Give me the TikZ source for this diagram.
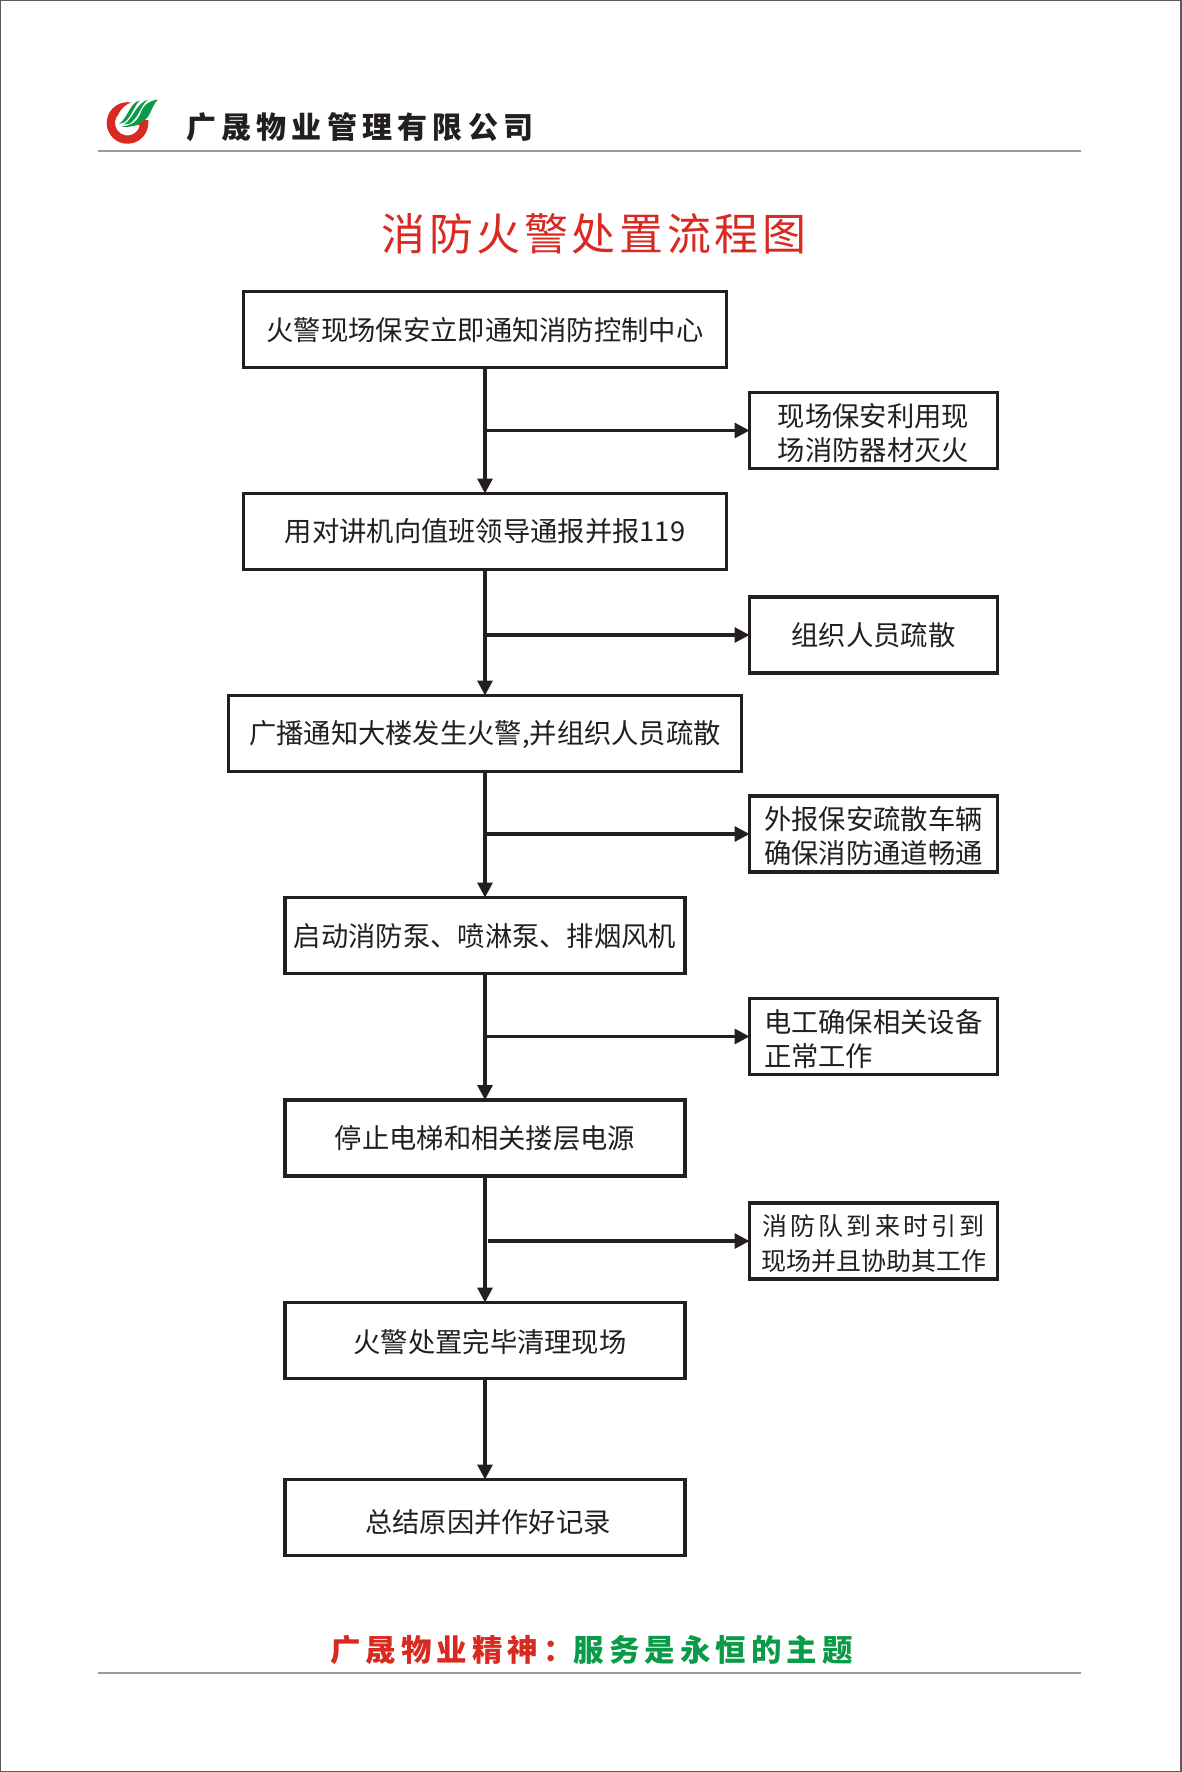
\documentclass[tikz,border=0pt]{standalone}
\usepackage{fontspec}
\usetikzlibrary{arrows.meta}
\newfontfamily\cjkbody{Noto Sans CJK SC}
\newfontfamily\cjkwide[LetterSpace=13]{Noto Sans CJK SC}
\newfontfamily\cjktitle[LetterSpace=8]{Noto Sans CJK SC}
\newfontfamily\cjkhead[LetterSpace=17.5]{Noto Sans CJK SC}
\newfontfamily\cjkmotto[LetterSpace=16.3]{Noto Sans CJK SC}
\definecolor{ink}{HTML}{231F20}
\definecolor{logored}{HTML}{D92A22}
\definecolor{logogreen}{HTML}{0B9A48}
\definecolor{rulegray}{HTML}{9A9A9A}
\definecolor{edgegray}{HTML}{5A5A5A}
\tikzset{
  mainbox/.style={draw=ink,line width=3.4pt,fill=white,outer sep=0pt,inner sep=0pt,minimum height=76pt,text=ink,
    font=\cjkbody\fontsize{27.3}{34}\selectfont,align=center},
  sidebox/.style={mainbox,minimum width=248pt},
  baseup/.style={text height=#1pt,text depth=0pt},
  basedown/.style={text height=0pt,text depth=#1pt},
  flow/.style={draw=ink,line width=3.2pt,-{Triangle[length=15pt,width=15pt]}},
  rulel/.style={draw=rulegray,line width=2pt},
  leaf/.style={fill=logogreen,draw=none}
}
\begin{document}
\begin{tikzpicture}[x=1pt,y=-1pt]
\useasboundingbox (0,0) rectangle (1181,1772);
\draw[edgegray,line width=2pt] (0,0) rectangle (1181,1772);
% header and footer rules
\coordinate (hl) at (98,150.5);
\coordinate (hr) at (1081,150.5);
\draw[rulel] (hl) -- (hr);
\coordinate (fl) at (98,1673);
\coordinate (fr) at (1081,1673);
\draw[rulel] (fl) -- (fr);
% logo
\fill[logored] (131.1,102.5) arc[start angle=-80,end angle=-360,radius=20.8]
  -- (148.3,120) -- (136.5,120) -- (134,125.2) -- (139.8,125.2)
  arc[start angle=-350,end angle=-140,radius=12.5]
  .. controls (121,108.5) and (126,104) .. (131.1,102.5) -- cycle;
\fill[leaf] (119,124) .. controls (128,118) and (130,102) .. (140,100.5)
  .. controls (135,104) and (133,114) .. (125,122) -- cycle;
\fill[leaf] (124,124.5) .. controls (133,119) and (136,103) .. (148.5,99.5)
  .. controls (141,104) and (140,116) .. (130,123.5) -- cycle;
\fill[leaf] (121,126.5) .. controls (131,126) and (138,121) .. (141,112)
  .. controls (143,106) and (148,101) .. (158,99.5)
  .. controls (152,105) and (151,115) .. (145,120)
  .. controls (140,125) and (130,128) .. (121,126.5) -- cycle;
\node[anchor=west,inner sep=0pt,text=ink] (company) at (186,127.5)
  {\cjkhead\bfseries\fontsize{30}{34}\selectfont 广晟物业管理有限公司};
% title
\node[inner sep=0pt,text=logored] (title) at (594,234)
  {\cjktitle\fontsize{44}{50}\selectfont 消防火警处置流程图};
% main boxes
\node[mainbox,minimum width=483pt,baseup=22.8] (a) at (485,329.5) {火警现场保安立即通知消防控制中心};
\node[mainbox,minimum width=483pt,baseup=20.8] (b) at (485,531.5) {用对讲机向值班领导通报并报119};
\node[mainbox,minimum width=513pt,baseup=20.8] (c) at (485,733.5) {广播通知大楼发生火警,并组织人员疏散};
\node[mainbox,minimum width=400pt,baseup=22.8] (d) at (485,935.5) {启动消防泵、喷淋泵、排烟风机};
\node[mainbox,minimum width=400pt,baseup=20.8] (e) at (485,1138) {停止电梯和相关搂层电源};
\node[mainbox,minimum width=400pt,baseup=24.8] (f) at (485,1340.5) {\hspace*{10pt}火警处置完毕清理现场};
\node[mainbox,minimum width=400pt,baseup=29.8] (g) at (485,1517.5) {\hspace*{6pt}总结原因并作好记录};
% side boxes
\node[sidebox,basedown=8.2,text width=219pt,align=center] (s1) at (873.5,430.5) {现场保安利用现\\场消防器材灭火};
\node[sidebox,baseup=20.8] (s2) at (873.5,635) {组织人员疏散};
\node[sidebox,basedown=8.2,text width=219pt,align=center] (s3) at (873.5,834) {外报保安疏散车辆\\确保消防通道畅通};
\node[sidebox,basedown=8.2,text width=219pt,align=left] (s4) at (873.5,1036.5) {电工确保相关设备\\正常工作};
\node[sidebox,basedown=11.2,text width=226pt,align=center,font=\fontsize{25}{35.5}\selectfont] (s5) at (873.5,1241)
  {{\cjkwide 消防队到来时引到}\\{\cjkbody 现场并且协助其工作}};
% connectors
\draw[flow] (a) -- (b);
\draw[flow] (b) -- (c);
\draw[flow] (c) -- (d);
\draw[flow] (d) -- (e);
\draw[flow] (e) -- (f);
\draw[flow] (f) -- (g);
\draw[flow] (a.south |- s1.west) -- (s1.west);
\draw[flow] (b.south |- s2.west) -- (s2.west);
\draw[flow] (c.south |- s3.west) -- (s3.west);
\draw[flow] (d.south |- s4.west) -- (s4.west);
\coordinate (j5) at (488,1241);
\draw[flow] (j5) -- (s5.west);
% footer
\node[inner sep=0pt] (motto) at (591.5,1650)
  {\cjkmotto\bfseries\fontsize{30.5}{34}\selectfont\textcolor{logored}{广晟物业精神：}\textcolor{logogreen}{服务是永恒的主题}};
\end{tikzpicture}
\end{document}
